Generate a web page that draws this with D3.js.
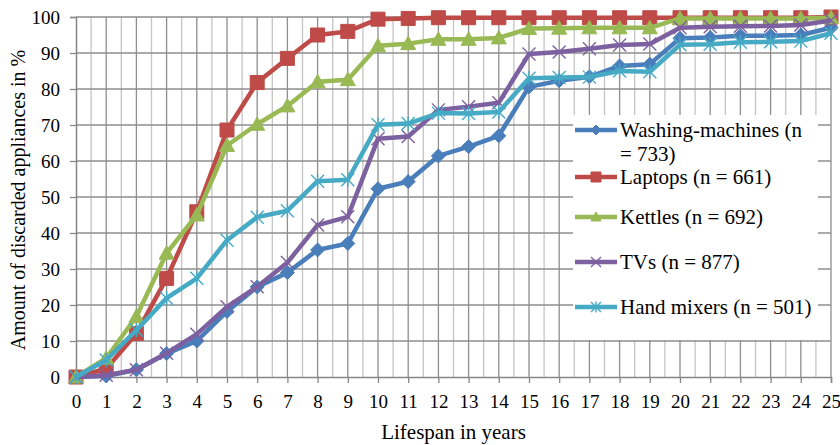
<!DOCTYPE html>
<html>
<head>
<meta charset="utf-8">
<script src="https://cdn.jsdelivr.net/npm/d3@7/dist/d3.min.js"></script>
<style>
  html, body { margin: 0; padding: 0; background: #fff; }
  svg { display: block; }
  svg text, svg tspan { font-family: "Liberation Serif", "Times New Roman", serif; fill: #000; }
</style>
</head>
<body>
<svg id="chart" width="840" height="445"></svg>
<script>
// Lifespan in years (x categories)
const years = d3.range(0, 26);
const yTicks = [0, 10, 20, 30, 40, 50, 60, 70, 80, 90, 100];

// Cumulative share of discarded appliances (%) per lifespan year
const washingMachines = [0, 0.3, 2, 6.5, 10, 18.2, 25, 29, 35.3, 37.1, 52.3, 54.3, 61.4, 64, 67, 80.6, 82.3, 83.4, 86.4, 86.9, 94.1, 94.3, 94.8, 94.8, 95, 97];
const laptops = [0, 2.3, 12.1, 27.4, 45.9, 68.6, 81.8, 88.5, 95, 96, 99.4, 99.6, 99.8, 99.8, 99.8, 99.8, 99.8, 99.8, 99.8, 99.8, 99.8, 99.8, 99.8, 99.8, 99.8, 100];
const kettles = [0, 5.2, 16.8, 34.4, 45, 64.3, 70.2, 75.3, 82, 82.6, 92, 92.6, 93.8, 93.8, 94.2, 96.8, 96.9, 97, 97, 97, 99.6, 99.6, 99.6, 99.6, 99.6, 99.8];
const tvs = [0, 0.5, 2, 6.6, 11.9, 19.5, 25.1, 31.8, 42.2, 44.5, 66.2, 66.8, 74.2, 75.1, 76.2, 89.7, 90.3, 91.2, 92.2, 92.5, 97, 97.3, 97.4, 97.5, 97.8, 99];
const handMixers = [0, 4.7, 13, 21.9, 27.4, 38, 44.4, 46.2, 54.4, 54.8, 70.1, 70.4, 73.3, 73.2, 73.6, 83, 83.2, 83.3, 85, 84.8, 92.3, 92.4, 93, 93.1, 93.3, 95.5];

const seriesNames = [["Washing-machines (n", "= 733)"], ["Laptops (n = 661)"], ["Kettles (n = 692)"], ["TVs (n = 877)"], ["Hand mixers (n = 501)"]];
const seriesValues = [washingMachines, laptops, kettles, tvs, handMixers];
const seriesColors = ["#4a7ebb", "#be4b48", "#98b954", "#7d60a0", "#46aac5"];
const seriesMarkers = ["diamond", "square", "triangle", "cross", "star"];

const FONT = "'Liberation Serif', 'Times New Roman', serif";
const margin = { left: 76, right: 9, top: 17, bottom: 68 };
const W = 840, H = 445;
const svg = d3.select("#chart");

const x = d3.scaleLinear().domain([0, 25]).range([margin.left, W - margin.right]);
const y = d3.scaleLinear().domain([0, 100]).range([H - margin.bottom, margin.top]);

// Grid: minor verticals at half years, major at whole years and every 10 %
const grid = svg.append("g");
grid.selectAll("line.minor").data(d3.range(0.5, 25, 1)).join("line")
  .attr("x1", d => x(d)).attr("x2", d => x(d))
  .attr("y1", y(0)).attr("y2", y(100))
  .attr("stroke", "#c4c4c4").attr("stroke-width", 1.3);
grid.selectAll("line.vmajor").data(years.slice(1)).join("line")
  .attr("x1", d => x(d)).attr("x2", d => x(d))
  .attr("y1", y(0)).attr("y2", y(100))
  .attr("stroke", "#8e8e8e").attr("stroke-width", 1.3);
grid.selectAll("line.hmajor").data(yTicks.slice(1)).join("line")
  .attr("x1", x(0)).attr("x2", x(25))
  .attr("y1", d => y(d)).attr("y2", d => y(d))
  .attr("stroke", "#8e8e8e").attr("stroke-width", 1.3);

// Axes
const xAxis = d3.axisBottom(x).tickValues(years).tickFormat(d3.format("d")).tickSize(6).tickPadding(12);
const yAxis = d3.axisLeft(y).tickValues(yTicks).tickSize(6).tickPadding(8);

const gx = svg.append("g").attr("transform", `translate(0,${y(0)})`).call(xAxis);
const gy = svg.append("g").attr("transform", `translate(${x(0)},0)`).call(yAxis);
[gx, gy].forEach(g => {
  g.attr("font-family", FONT).attr("font-size", 19);
  g.select(".domain").attr("stroke", "#868686").attr("stroke-width", 1.5);
  g.selectAll(".tick line").attr("stroke", "#868686").attr("stroke-width", 1.3);
  g.selectAll(".tick text").attr("fill", "#000")
    .style("font-size", "19px").style("font-family", FONT);
});
gy.selectAll(".tick text").attr("dx", "-0.1em");

// Axis titles
svg.append("text").attr("x", (x(0) + x(25)) / 2).attr("y", 439)
  .attr("text-anchor", "middle")
  .style("font-family", FONT).style("font-size", "21px").text("Lifespan in years");
svg.append("text").attr("transform", `translate(25,${(y(0) + y(100)) / 2 + 3}) rotate(-90)`)
  .attr("text-anchor", "middle")
  .style("font-family", FONT).style("font-size", "20px").text("Amount of discarded appliances in %");

// Marker shapes
function markerPath(kind, s) {
  const h = s / 2;
  switch (kind) {
    case "diamond": return `M0,${-h}L${h},0L0,${h}L${-h},0Z`;
    case "square": return `M${-h},${-h}H${h}V${h}H${-h}Z`;
    case "triangle": return `M0,${-h}L${h},${h * 0.8}L${-h},${h * 0.8}Z`;
    case "cross": return `M${-h},${-h}L${h},${h}M${-h},${h}L${h},${-h}`;
    case "star": return `M${-h},${-h}L${h},${h}M${-h},${h}L${h},${-h}M0,${-h * 1.1}V${h * 1.1}`;
  }
}
function drawMarker(g, kind, color, s) {
  const filled = kind === "diamond" || kind === "square" || kind === "triangle";
  g.append("path").attr("d", markerPath(kind, s))
    .attr("fill", filled ? color : "none")
    .attr("stroke", color)
    .attr("stroke-width", filled ? 1 : 1.4);
}

const line = d3.line().x((d, i) => x(years[i])).y(d => y(d));
const markerSize = { diamond: 14, square: 14, triangle: 15, cross: 13, star: 13 };

seriesValues.forEach((vals, k) => {
  const g = svg.append("g");
  g.append("path").datum(vals).attr("d", line)
    .attr("fill", "none").attr("stroke", seriesColors[k])
    .attr("stroke-width", 4.5).attr("stroke-linejoin", "round");
  vals.forEach((v, i) => {
    const m = g.append("g").attr("transform", `translate(${x(years[i])},${y(v)})`);
    drawMarker(m, seriesMarkers[k], seriesColors[k], markerSize[seriesMarkers[k]]);
  });
});

// Legend
const legend = svg.append("g");
legend.append("rect").attr("x", 573).attr("y", 115).attr("width", 245).attr("height", 225).attr("fill", "#fff");
const legendY = [130, 177, 217, 262, 307];
seriesNames.forEach((lines, k) => {
  const g = legend.append("g").attr("transform", `translate(0,${legendY[k]})`);
  g.append("line").attr("x1", 575).attr("x2", 617).attr("y1", 0).attr("y2", 0)
    .attr("stroke", seriesColors[k]).attr("stroke-width", 4.5);
  const m = g.append("g").attr("transform", "translate(596,0)");
  drawMarker(m, seriesMarkers[k], seriesColors[k], 10);
  const t = g.append("text").attr("x", 620).attr("y", 7)
    .attr("font-family", FONT).attr("font-size", 21);
  lines.forEach((s, j) => t.append("tspan")
    .attr("x", 620).attr("dy", j === 0 ? 0 : 24)
    .attr("font-family", FONT).attr("font-size", 21)
    .text(s));
});
</script>
</body>
</html>
